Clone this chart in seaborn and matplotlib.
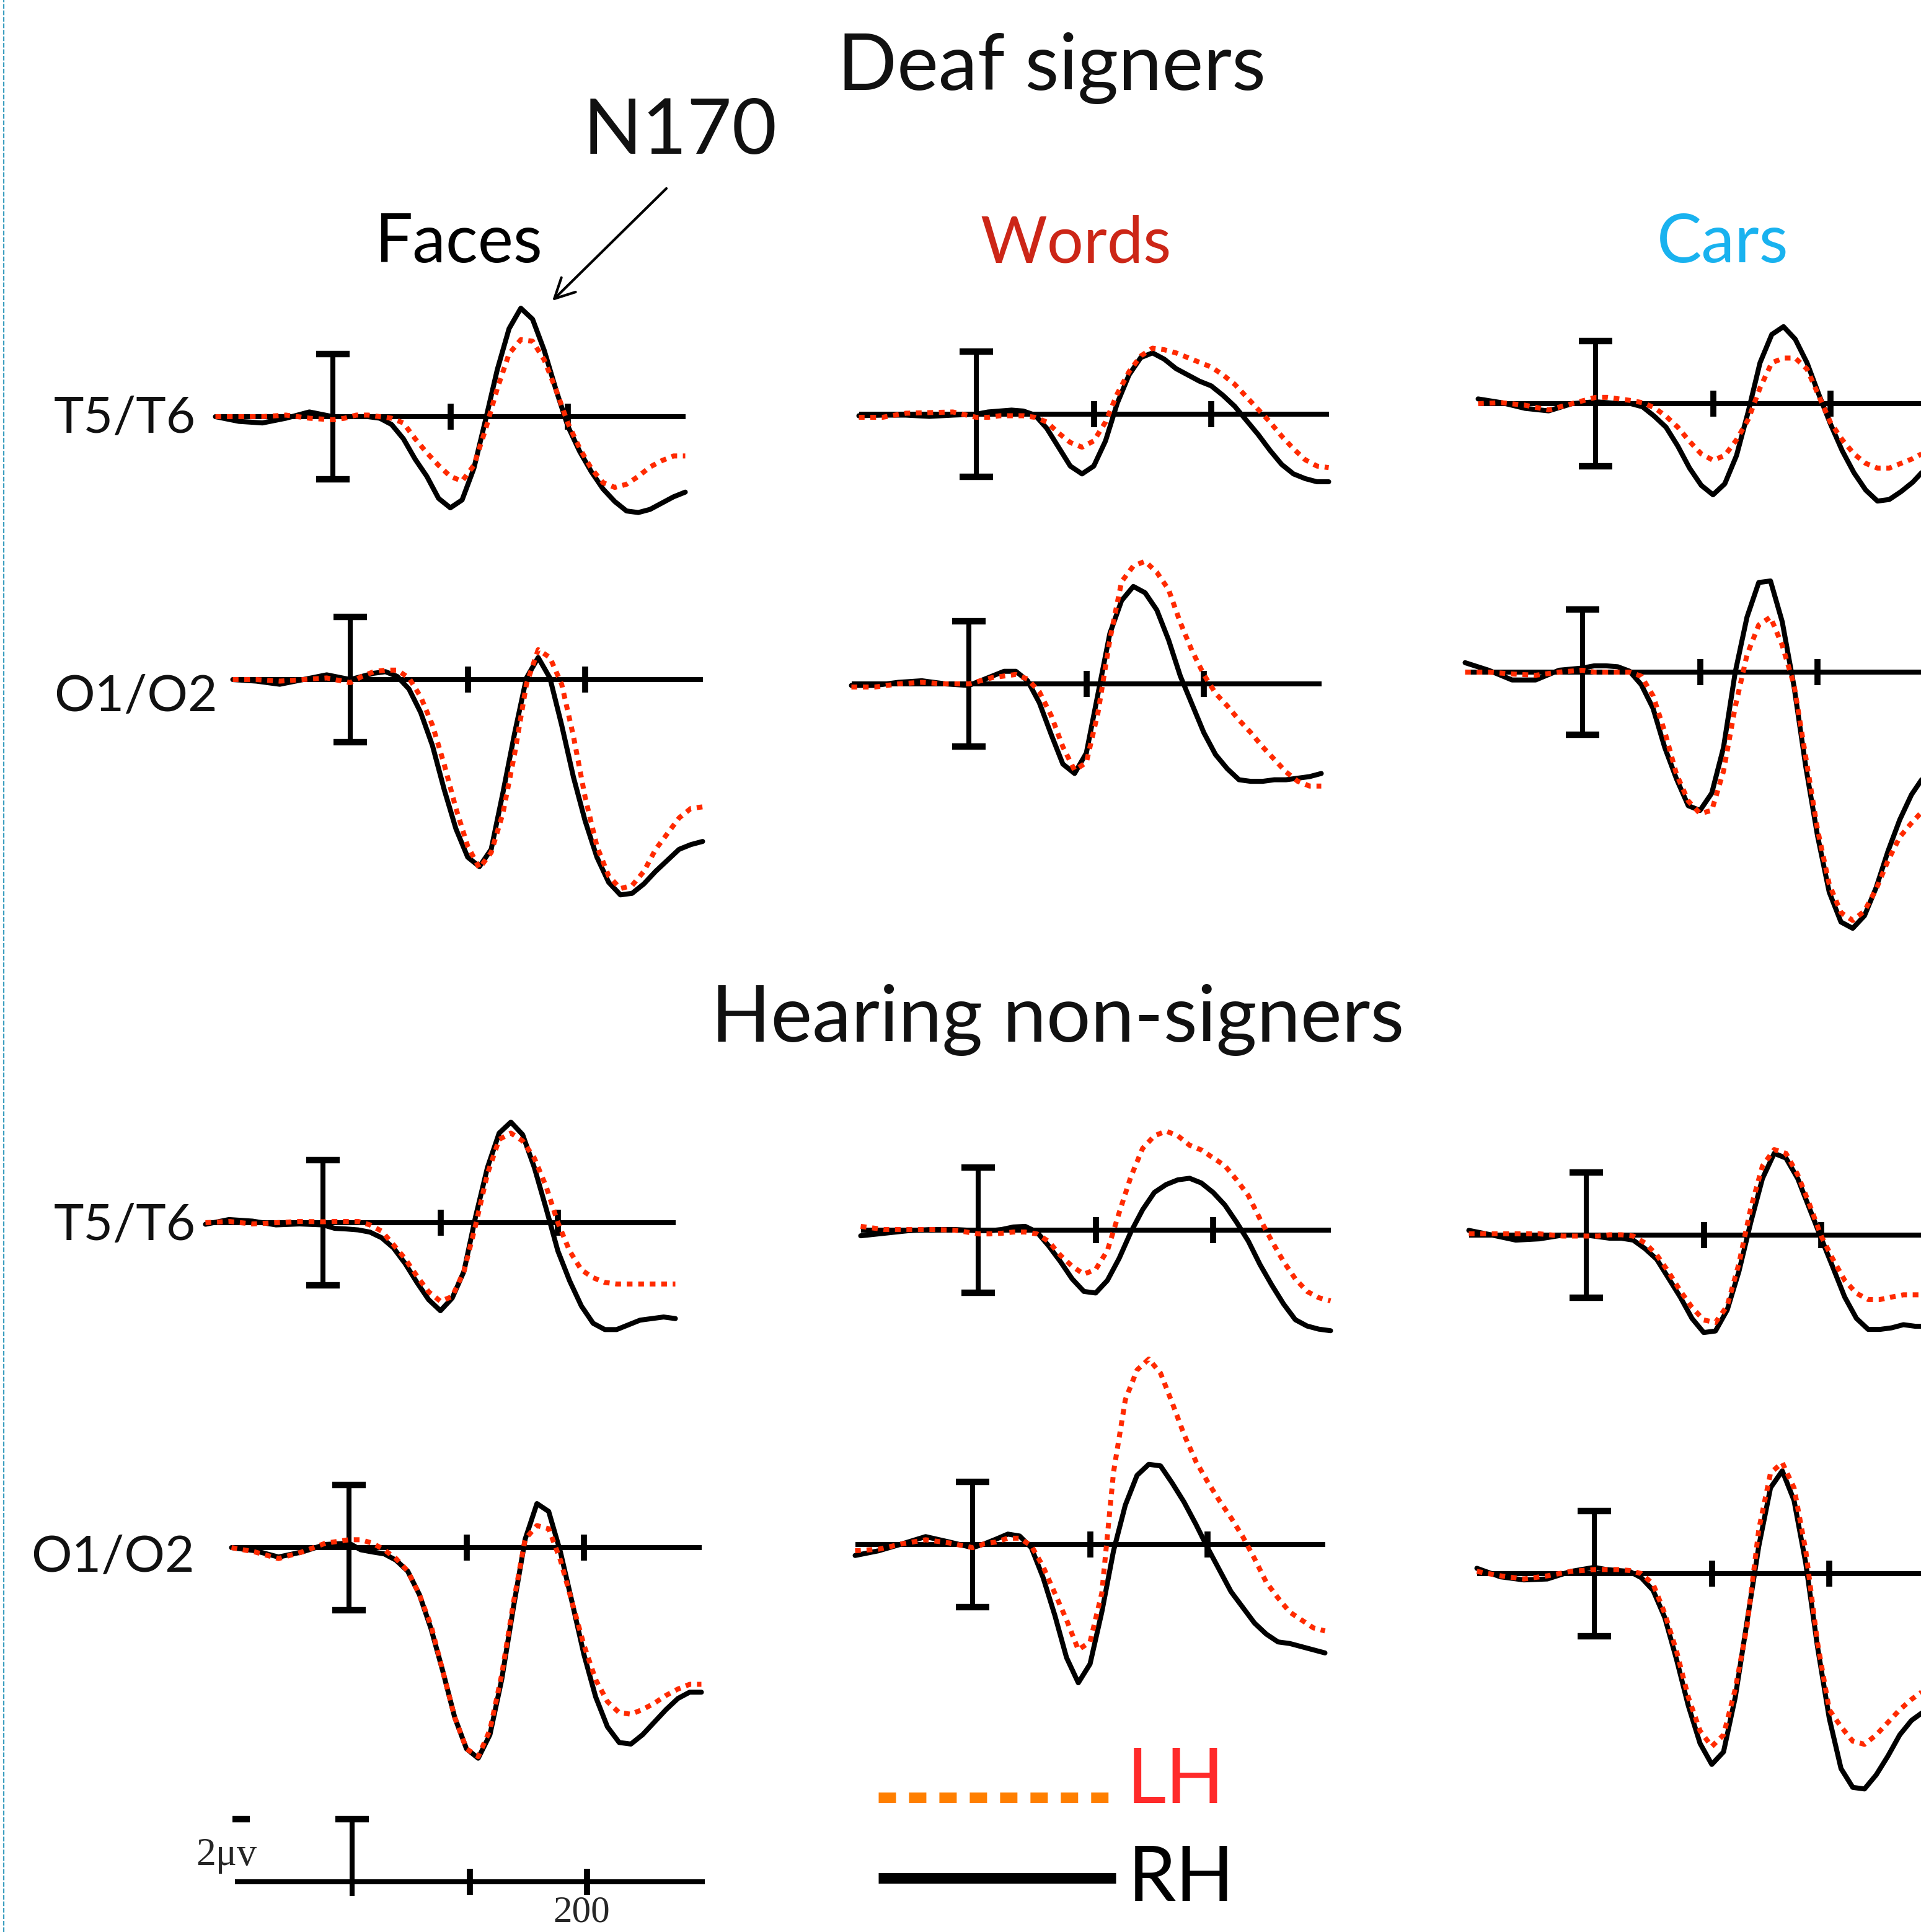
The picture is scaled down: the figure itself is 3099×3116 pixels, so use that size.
import matplotlib
matplotlib.use("Agg")
import pandas as pd
import seaborn as sns
import matplotlib.pyplot as plt

# ---------------------------------------------------------------- data
# sample times in ms (stimulus onset = 0)
times = [-100, -80, -60, -40, -20,
         0, 10, 20, 30, 40, 50, 60, 70, 80, 90, 100, 110, 120, 130, 140, 150,
         160, 170, 180, 190, 200, 210, 220, 230, 240, 250, 260, 270, 280, 290, 300]

# amplitudes in microvolts (N170 deflection drawn upwards)
# deaf signers
deaf_faces_t5t6_rh = [0.0, -0.15, -0.2, -0.05, 0.15,
                      0.0, 0.0, 0.0, 0.0, -0.05, -0.25, -0.7, -1.35, -1.9, -2.6, -2.9, -2.65, -1.65, -0.1, 1.5, 2.8,
                      3.45, 3.1, 2.1, 0.85, -0.3, -1.1, -1.75, -2.3, -2.7, -3.0, -3.05, -2.95, -2.75, -2.55, -2.4]
deaf_faces_t5t6_lh = [0.0, 0.0, 0.0, 0.05, -0.05,
                      -0.1, -0.05, 0.05, 0.05, 0.0, -0.05, -0.2, -0.7, -1.15, -1.55, -1.9, -2.05, -1.55, -0.4, 0.9, 2.0,
                      2.45, 2.4, 1.8, 0.85, -0.2, -1.0, -1.65, -2.1, -2.25, -2.15, -1.9, -1.6, -1.4, -1.25, -1.25]
deaf_faces_o1o2_rh = [0.0, -0.05, -0.15, 0.0, 0.15,
                      0.0, 0.1, 0.2, 0.25, 0.1, -0.3, -1.05, -2.1, -3.5, -4.75, -5.65, -5.95, -5.4, -3.6, -1.7, 0.05,
                      0.7, 0.05, -1.45, -3.1, -4.5, -5.65, -6.45, -6.85, -6.8, -6.5, -6.1, -5.75, -5.4, -5.25, -5.15]
deaf_faces_o1o2_lh = [0.0, 0.0, -0.05, 0.0, 0.05,
                      -0.1, 0.1, 0.25, 0.3, 0.3, 0.05, -0.55, -1.45, -2.7, -4.1, -5.3, -6.0, -5.5, -4.25, -2.35, -0.15,
                      0.95, 0.7, -0.15, -1.8, -3.75, -5.3, -6.25, -6.65, -6.55, -6.1, -5.4, -4.9, -4.4, -4.1, -4.05]
deaf_words_t5t6_rh = [-0.05, -0.03, -0.03, -0.07, -0.03,
                      0.0, 0.07, 0.1, 0.13, 0.1, -0.03, -0.45, -1.05, -1.65, -1.9, -1.65, -0.85, 0.35, 1.25, 1.8, 1.95,
                      1.75, 1.45, 1.25, 1.05, 0.9, 0.6, 0.25, -0.2, -0.65, -1.15, -1.6, -1.9, -2.05, -2.15, -2.15]
deaf_words_t5t6_lh = [-0.1, -0.1, 0.03, 0.05, 0.07,
                      -0.1, -0.1, -0.05, -0.05, -0.05, -0.1, -0.25, -0.6, -0.9, -1.05, -0.85, -0.25, 0.65, 1.35, 1.85, 2.1,
                      2.05, 1.95, 1.8, 1.65, 1.5, 1.25, 0.95, 0.55, 0.15, -0.25, -0.7, -1.1, -1.45, -1.65, -1.7]
deaf_words_o1o2_rh = [-0.05, -0.05, 0.05, 0.1, 0.0,
                      -0.05, 0.1, 0.25, 0.4, 0.4, 0.1, -0.6, -1.6, -2.55, -2.85, -2.2, -0.3, 1.6, 2.65, 3.1, 2.9,
                      2.35, 1.4, 0.25, -0.65, -1.55, -2.25, -2.7, -3.05, -3.1, -3.1, -3.05, -3.05, -3.0, -2.95, -2.85]
deaf_words_o1o2_lh = [-0.1, -0.1, 0.0, 0.05, 0.0,
                      0.0, 0.1, 0.2, 0.25, 0.3, 0.15, -0.25, -1.0, -2.0, -2.75, -2.5, -0.9, 1.4, 3.25, 3.75, 3.9,
                      3.55, 3.0, 1.95, 1.05, 0.3, -0.3, -0.7, -1.15, -1.55, -2.0, -2.4, -2.8, -3.1, -3.25, -3.25]
deaf_cars_t5t6_rh = [0.15, 0.03, -0.15, -0.23, 0.0,
                     0.06, 0.03, 0.0, 0.0, -0.1, -0.4, -0.75, -1.35, -2.05, -2.6, -2.9, -2.55, -1.65, -0.25, 1.3, 2.2,
                     2.45, 2.05, 1.3, 0.3, -0.65, -1.5, -2.2, -2.75, -3.1, -3.05, -2.8, -2.5, -2.1, -1.8, -1.5]
deaf_cars_t5t6_lh = [0.0, 0.03, -0.05, -0.2, 0.0,
                     0.2, 0.2, 0.15, 0.1, 0.03, -0.13, -0.4, -0.75, -1.2, -1.6, -1.8, -1.65, -1.15, -0.5, 0.5, 1.3,
                     1.45, 1.45, 1.1, 0.25, -0.6, -1.15, -1.6, -1.9, -2.05, -2.05, -1.9, -1.75, -1.55, -1.4, -1.3]
deaf_cars_o1o2_rh = [0.3, 0.06, -0.25, -0.25, 0.06,
                     0.13, 0.2, 0.2, 0.17, 0.03, -0.4, -1.15, -2.4, -3.4, -4.25, -4.4, -3.85, -2.4, 0.0, 1.75, 2.85,
                     2.9, 1.6, -0.45, -3.0, -5.2, -7.0, -7.95, -8.15, -7.75, -6.85, -5.7, -4.7, -3.9, -3.35, -3.0]
deaf_cars_o1o2_lh = [0.0, 0.0, -0.06, -0.1, 0.0,
                     0.06, 0.0, 0.0, 0.0, 0.0, -0.13, -0.75, -1.9, -3.25, -4.1, -4.5, -4.4, -3.15, -1.1, 0.55, 1.5,
                     1.75, 0.85, -0.4, -2.7, -5.0, -6.75, -7.65, -7.9, -7.6, -6.9, -6.0, -5.25, -4.8, -4.4, -4.1]

# hearing non-signers
hear_faces_t5t6_rh = [-0.05, 0.1, 0.05, -0.07, -0.04,
                      -0.07, -0.18, -0.2, -0.23, -0.3, -0.48, -0.8, -1.3, -1.9, -2.45, -2.8, -2.4, -1.55, 0.2, 1.75, 2.85,
                      3.2, 2.8, 1.75, 0.45, -0.9, -1.85, -2.65, -3.2, -3.4, -3.4, -3.25, -3.1, -3.05, -3.0, -3.05]
hear_faces_t5t6_lh = [0.0, 0.04, -0.04, 0.0, 0.04,
                      0.03, 0.04, 0.04, 0.04, -0.07, -0.27, -0.7, -1.15, -1.7, -2.2, -2.5, -2.35, -1.55, -0.07, 1.55, 2.65,
                      2.85, 2.6, 2.05, 1.15, 0.0, -0.9, -1.5, -1.75, -1.9, -1.95, -1.95, -1.95, -1.95, -1.95, -1.95]
hear_faces_o1o2_rh = [0.0, -0.1, -0.3, -0.14, 0.1,
                      0.14, -0.07, -0.14, -0.2, -0.4, -0.75, -1.5, -2.6, -3.95, -5.4, -6.4, -6.7, -5.95, -4.2, -1.9, 0.27,
                      1.4, 1.15, -0.14, -1.75, -3.4, -4.75, -5.7, -6.2, -6.25, -5.95, -5.55, -5.15, -4.8, -4.6, -4.6]
hear_faces_o1o2_lh = [0.0, -0.14, -0.35, -0.14, 0.14,
                      0.25, 0.25, 0.14, -0.07, -0.35, -0.75, -1.5, -2.5, -3.95, -5.4, -6.4, -6.65, -5.8, -4.05, -1.75, 0.27,
                      0.7, 0.6, -0.4, -1.75, -3.1, -4.2, -4.9, -5.25, -5.3, -5.15, -4.95, -4.7, -4.5, -4.35, -4.35]
hear_words_t5t6_rh = [-0.18, -0.1, -0.02, 0.02, 0.02,
                      -0.02, -0.02, 0.02, 0.1, 0.12, -0.06, -0.5, -1.0, -1.55, -1.95, -2.0, -1.6, -0.9, -0.06, 0.65, 1.2,
                      1.45, 1.6, 1.65, 1.5, 1.2, 0.8, 0.25, -0.35, -1.1, -1.75, -2.35, -2.85, -3.05, -3.15, -3.2]
hear_words_t5t6_lh = [0.12, 0.02, 0.02, 0.02, 0.0,
                      -0.12, -0.12, -0.1, -0.06, -0.06, -0.12, -0.36, -0.8, -1.15, -1.4, -1.25, -0.65, 0.55, 1.7, 2.6, 3.0,
                      3.15, 3.0, 2.7, 2.55, 2.3, 2.05, 1.6, 1.1, 0.35, -0.35, -1.0, -1.55, -1.95, -2.15, -2.25]
hear_words_o1o2_rh = [-0.35, -0.2, 0.02, 0.25, 0.08,
                      -0.1, 0.02, 0.17, 0.33, 0.27, -0.1, -1.05, -2.25, -3.6, -4.4, -3.8, -2.15, -0.2, 1.25, 2.2, 2.55,
                      2.5, 1.95, 1.35, 0.65, -0.1, -0.8, -1.5, -2.0, -2.5, -2.85, -3.1, -3.15, -3.25, -3.35, -3.45]
hear_words_o1o2_lh = [-0.2, -0.15, 0.02, 0.15, 0.05,
                      -0.1, 0.02, 0.08, 0.2, 0.2, -0.04, -0.7, -1.55, -2.4, -3.35, -3.1, -1.55, 2.3, 4.6, 5.55, 5.9,
                      5.45, 4.5, 3.5, 2.65, 2.0, 1.4, 0.85, 0.25, -0.45, -1.2, -1.7, -2.15, -2.4, -2.65, -2.75]
hear_cars_t5t6_rh = [0.15, 0.0, -0.16, -0.12, 0.0,
                     0.0, -0.05, -0.1, -0.1, -0.16, -0.43, -0.77, -1.37, -1.97, -2.65, -3.1, -3.05, -2.38, -1.15, 0.4, 1.8,
                     2.6, 2.45, 1.8, 0.85, -0.1, -1.03, -1.97, -2.65, -3.0, -3.0, -2.95, -2.85, -2.9, -2.9, -2.9]
hear_cars_t5t6_lh = [0.04, 0.04, 0.04, 0.04, -0.03,
                     -0.03, -0.03, 0.01, 0.01, -0.03, -0.25, -0.63, -1.17, -1.77, -2.3, -2.7, -2.78, -2.25, -0.9, 0.85, 2.2,
                     2.72, 2.6, 1.92, 0.98, -0.03, -0.77, -1.44, -1.85, -2.05, -2.05, -1.97, -1.9, -1.9, -1.9, -1.9]
hear_cars_o1o2_rh = [0.17, -0.1, -0.2, -0.17, 0.07,
                     0.2, 0.13, 0.1, 0.07, -0.13, -0.53, -1.4, -2.73, -4.2, -5.4, -6.07, -5.67, -3.93, -1.53, 0.87, 2.73,
                     3.27, 2.33, 0.33, -2.33, -4.6, -6.2, -6.8, -6.85, -6.4, -5.8, -5.13, -4.67, -4.4, -4.2, -4.0]
hear_cars_o1o2_lh = [0.07, -0.07, -0.17, -0.07, 0.07,
                     0.13, 0.13, 0.13, 0.1, 0.0, -0.33, -1.27, -2.47, -3.93, -5.0, -5.5, -5.13, -3.67, -1.67, 1.4, 3.2,
                     3.53, 2.73, 0.73, -2.2, -4.33, -4.87, -5.33, -5.43, -5.13, -4.73, -4.33, -4.0, -3.73, -3.55, -3.4]

# calibration marks
baseline_span = [-100, 300]   # ms
tick_times = [100, 200]       # ms
bar_uv = 2                    # half height of the calibration bar (µV)
scale_label_uv = "2\u03bcv"
scale_label_ms = "200"

categories = ["Faces", "Words", "Cars"]
category_colors = ["black", "#cc2617", "#19b2ef"]
category_sizes = [78, 75, 78]
sites = ["T5/T6", "O1/O2"]
groups = ["Deaf signers", "Hearing non-signers"]

# ---------------------------------------------------------------- layout
W, H = 3099, 3116
PX_MS = 1.895      # pixels per ms
PX_UV = 50.7       # pixels per µV
T_LIM = (-115, 315)
V_LIM = (-9.5, 7.0)

RED = "#ff2a00"
LW = 5.8

sns.set_style("white")
plt.rcParams["font.family"] = ["Lato", "DejaVu Sans"]

fig = plt.figure(figsize=(W / 100, H / 100), dpi=100)
fig.patch.set_facecolor("white")

# overlay axes in pixel units for text annotations
ov = fig.add_axes([0, 0, 1, 1])
ov.set_xlim(0, W)
ov.set_ylim(H, 0)
ov.axis("off")


def panel_axes(x0, y0):
    # x0, y0: pixel position of t=0 on the baseline
    left = x0 + T_LIM[0] * PX_MS
    width = (T_LIM[1] - T_LIM[0]) * PX_MS
    bottom = y0 - V_LIM[0] * PX_UV
    height = (V_LIM[1] - V_LIM[0]) * PX_UV
    ax = fig.add_axes([left / W, 1 - bottom / H, width / W, height / H])
    ax.set_xlim(*T_LIM)
    ax.set_ylim(*V_LIM)
    ax.axis("off")
    ax.patch.set_alpha(0)
    return ax


def draw_frame(ax, bar_low, bar_high):
    ax.hlines(0, baseline_span[0], baseline_span[1], color="black", lw=5.8, zorder=1)
    ax.vlines(tick_times, -0.42, 0.42, color="black", lw=7, zorder=1)
    ax.vlines(0, bar_low, bar_high, color="black", lw=5.8, zorder=1)
    caps = [v for v in (bar_low, bar_high) if abs(v) >= 1]
    ax.hlines(caps, -14.5, 14.5, color="black", lw=7.5, zorder=1)


panels = [
    # group, row, col, rh, lh, origin px
    (0, 0, 0, deaf_faces_t5t6_rh, deaf_faces_t5t6_lh, (537, 672)),
    (0, 0, 1, deaf_words_t5t6_rh, deaf_words_t5t6_lh, (1575, 668)),
    (0, 0, 2, deaf_cars_t5t6_rh, deaf_cars_t5t6_lh, (2574, 651)),
    (0, 1, 0, deaf_faces_o1o2_rh, deaf_faces_o1o2_lh, (565, 1096)),
    (0, 1, 1, deaf_words_o1o2_rh, deaf_words_o1o2_lh, (1563, 1103)),
    (0, 1, 2, deaf_cars_o1o2_rh, deaf_cars_o1o2_lh, (2553, 1084)),
    (1, 0, 0, hear_faces_t5t6_rh, hear_faces_t5t6_lh, (521, 1972)),
    (1, 0, 1, hear_words_t5t6_rh, hear_words_t5t6_lh, (1578, 1984)),
    (1, 0, 2, hear_cars_t5t6_rh, hear_cars_t5t6_lh, (2559, 1992)),
    (1, 1, 0, hear_faces_o1o2_rh, hear_faces_o1o2_lh, (563, 2496)),
    (1, 1, 1, hear_words_o1o2_rh, hear_words_o1o2_lh, (1569, 2491)),
    (1, 1, 2, hear_cars_o1o2_rh, hear_cars_o1o2_lh, (2572, 2538)),
]

for g, row, col, rh, lh, (x0, y0) in panels:
    ax = panel_axes(x0, y0)
    draw_frame(ax, -bar_uv, bar_uv)
    n = len(times)
    df = pd.DataFrame({
        "time": times + times,
        "amp": rh + lh,
        "hemi": ["RH"] * n + ["LH"] * n,
    })
    sns.lineplot(data=df, x="time", y="amp", hue="hemi", style="hemi",
                 hue_order=["RH", "LH"], style_order=["RH", "LH"],
                 palette={"RH": "black", "LH": RED},
                 dashes={"RH": "", "LH": (1.15, 1.15)},
                 linewidth=LW, estimator=None, sort=False, legend=False, ax=ax,
                 solid_joinstyle="round", dash_joinstyle="round")
    ax.axis("off")

# calibration panel at the bottom left
sax = panel_axes(568, 3035)
draw_frame(sax, -0.45, bar_uv)
sax.hlines(bar_uv, -102, -87, color="black", lw=7.5)

# ---------------------------------------------------------------- text
ov.text(1696, 145, groups[0], fontsize=91, ha="center", va="baseline", color="#111111")
ov.text(1706, 1680, groups[1], fontsize=91, ha="center", va="baseline", color="#111111")
ov.text(1097, 248, "N170", fontsize=90, ha="center", va="baseline", color="#111111")
ov.annotate("", xy=(889, 487), xytext=(1077, 302),
            arrowprops=dict(arrowstyle="->,head_length=0.55,head_width=0.28",
                            lw=3.0, color="black", mutation_scale=42))

for name, color, size, cx in zip(categories, category_colors, category_sizes, [740, 1736, 2779]):
    ov.text(cx, 423, name, fontsize=size, color=color, ha="center", va="baseline")

site_pos = [[(87, 698), (87, 1147)], [(87, 2000), (50, 2535)]]
for g in range(2):
    for r in range(2):
        x, y = site_pos[g][r]
        ov.text(x, y, sites[r], fontsize=59, ha="left", va="baseline", color="#111111")

# legend
ov.plot([1417, 1795], [2899, 2899], color="#ff7f00", lw=12.2,
        dashes=(1.65, 1.24), solid_capstyle="butt", dash_capstyle="butt")
ov.plot([1417, 1800], [3029, 3029], color="black", lw=12.2, solid_capstyle="butt")
ov.text(1818, 2908, "LH", fontsize=89, color="#ff2a2a", ha="left", va="baseline")
ov.text(1820, 3066, "RH", fontsize=89, color="black", ha="left", va="baseline")

# scale labels
serif = ["Liberation Serif", "DejaVu Serif"]
ov.text(316, 3008, scale_label_uv, fontsize=46, family=serif, ha="left", va="baseline")
ov.text(938, 3100, scale_label_ms, fontsize=44, family=serif, ha="center", va="baseline")

# dashed page margin on the left
ov.axvline(6, color="#3a9dbf", lw=1.6, dashes=(3.4, 1.3))

fig.savefig("out.png", dpi=100)
